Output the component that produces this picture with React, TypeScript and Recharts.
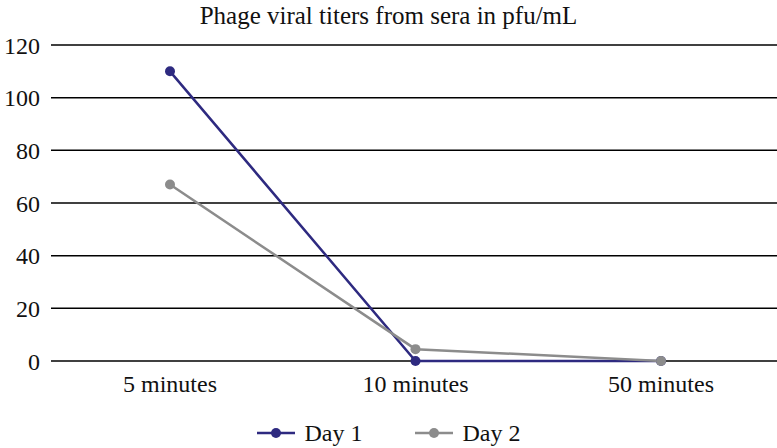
import { LineChart, Line, XAxis, YAxis, CartesianGrid, Legend } from "recharts";

const categories = ["5 minutes", "10 minutes", "50 minutes"];
const day1 = [110, 0, 0];
const day2 = [67, 4.5, 0];
const yTicks = [0, 20, 40, 60, 80, 100, 120];

const SERIES = [
  { key: "day1", name: "Day 1", color: "#2e2a80" },
  { key: "day2", name: "Day 2", color: "#8c8c8c" },
];

const FONT = "'Liberation Serif', 'Times New Roman', serif";

const data = categories.map((c, i) => ({ name: c, day1: day1[i], day2: day2[i] }));

// force serif everywhere inside the chart
const css = `
.chart-root, .chart-root * , .chart-root svg text, .chart-root svg tspan {
  font-family: 'Liberation Serif', 'Times New Roman', serif !important;
}
`;

const LegendContent = () => (
  <div style={{ display: "flex", justifyContent: "center", height: 30, alignItems: "center", fontSize: 24, color: "#111" }}>
    {SERIES.map((s, i) => (
      <div key={s.key} style={{ display: "flex", alignItems: "center", marginLeft: i ? 52 : 0 }}>
        <svg width={38} height={12} style={{ marginRight: 10 }}>
          <line x1={0} y1={6} x2={38} y2={6} stroke={s.color} strokeWidth={2.5} />
          <circle cx={19} cy={6} r={5} fill={s.color} />
        </svg>
        <span>{s.name}</span>
      </div>
    ))}
  </div>
);

export default function App() {
  return (
    <div className="chart-root" style={{ position: "absolute", left: 0, top: 0, width: 777, height: 448, background: "#fff", fontFamily: FONT }}>
      <style>{css}</style>
      <div style={{ position: "absolute", top: 1, left: 0, width: 777, textAlign: "center", fontSize: 25, color: "#111", lineHeight: "30px" }}>
        Phage viral titers from sera in pfu/mL
      </div>
      <LineChart width={777} height={448} data={data} margin={{ top: 45, right: 0, left: 0, bottom: 27 }}>
        <CartesianGrid vertical={false} stroke="#000" strokeWidth={1.5} />
        <XAxis
          dataKey="name"
          axisLine={false}
          tickLine={false}
          tickMargin={8}
          padding={{ left: 119, right: 116 }}
          tick={{ fill: "#111", fontSize: 24, fontFamily: FONT }}
        />
        <YAxis
          width={51}
          domain={[0, 120]}
          ticks={yTicks}
          axisLine={false}
          tickLine={false}
          tickMargin={5}
          tick={{ fill: "#111", fontSize: 24, fontFamily: FONT }}
        />
        <Legend verticalAlign="bottom" wrapperStyle={{ bottom: 0 }} content={() => <LegendContent />} />
        {SERIES.map((s) => (
          <Line
            key={s.key}
            dataKey={s.key}
            name={s.name}
            stroke={s.color}
            strokeWidth={2.5}
            dot={{ r: 5, fill: s.color, stroke: s.color, strokeWidth: 0 }}
            isAnimationActive={false}
          />
        ))}
      </LineChart>
    </div>
  );
}
